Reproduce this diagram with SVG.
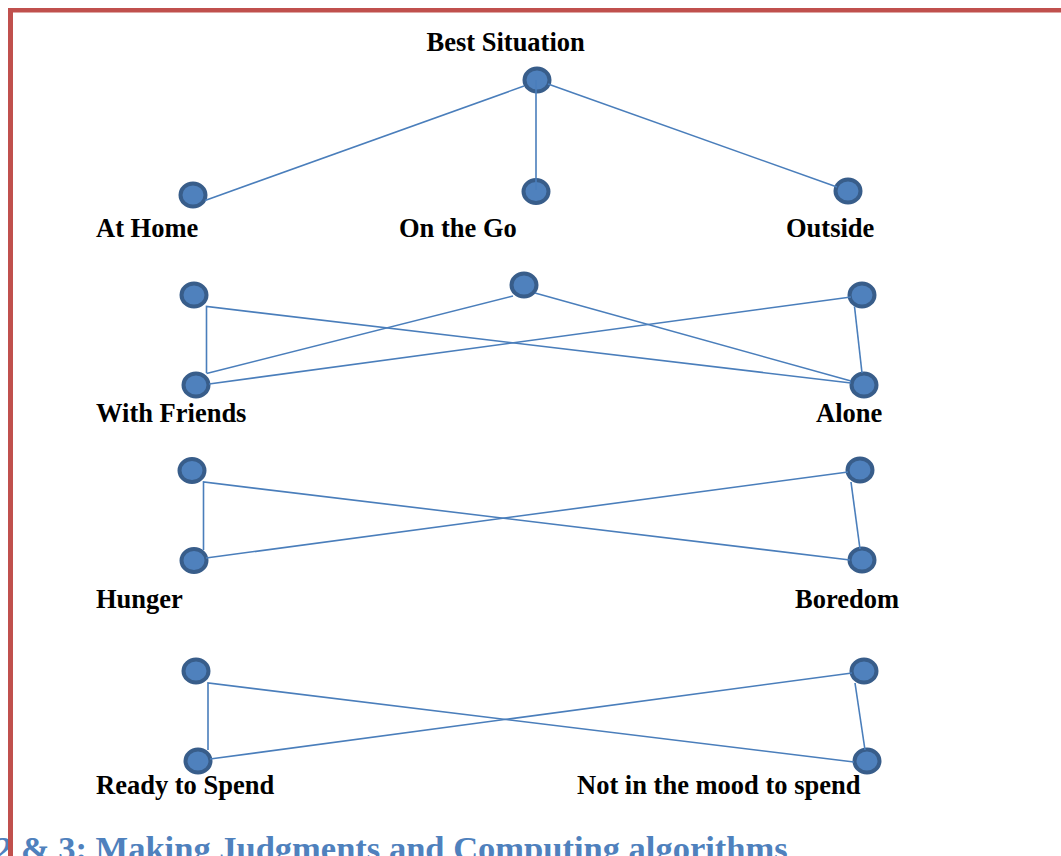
<svg xmlns="http://www.w3.org/2000/svg" width="1061" height="856" viewBox="0 0 1061 856">
<style>
.bg{fill:#ffffff}
.border{fill:#C0504D}
.node{fill:#4F81BD;stroke:#385D8A;stroke-width:4}
.edge{stroke:#4A7EBB;stroke-width:1.6;fill:none}
.lbl{font-family:"Liberation Serif","Times New Roman",serif;font-weight:bold;font-size:26.5px;fill:#000000}
.head{font-family:"Liberation Serif","Times New Roman",serif;font-weight:bold;font-size:34.5px;fill:#4F81BD}
</style>
<rect class="bg" x="0" y="0" width="1061" height="856"/>
<text class="head" x="-5" y="860">2 &amp; 3: Making Judgments and Computing algorithms</text>
<g id="frame">
<rect class="border" x="8" y="8" width="1053" height="4.5"/>
<rect class="border" x="8" y="8" width="5" height="848"/>
</g>
<g id="nodes">
<g id="n-best"><ellipse class="node" cx="537" cy="80" rx="12.5" ry="11.5"/><text class="lbl" x="426.5" y="51">Best Situation</text></g>
<g id="n-athome"><ellipse class="node" cx="193" cy="195" rx="12.5" ry="11.5"/><text class="lbl" x="96" y="237">At Home</text></g>
<g id="n-onthego"><ellipse class="node" cx="536" cy="191.5" rx="12.5" ry="11.5"/><text class="lbl" x="399" y="237">On the Go</text></g>
<g id="n-outside"><ellipse class="node" cx="848" cy="191" rx="12.5" ry="11.5"/><text class="lbl" x="786" y="237">Outside</text></g>

<g id="n-r2-tl"><ellipse class="node" cx="194" cy="295" rx="12.5" ry="11.5"/></g>
<g id="n-r2-tm"><ellipse class="node" cx="524" cy="285" rx="12.5" ry="11.5"/></g>
<g id="n-r2-tr"><ellipse class="node" cx="862" cy="295" rx="12.5" ry="11.5"/></g>
<g id="n-withfriends"><ellipse class="node" cx="196" cy="385" rx="12.5" ry="11.5"/><text class="lbl" x="96" y="422">With Friends</text></g>
<g id="n-alone"><ellipse class="node" cx="864" cy="385" rx="12.5" ry="11.5"/><text class="lbl" x="816" y="422">Alone</text></g>

<g id="n-r3-tl"><ellipse class="node" cx="192" cy="470.5" rx="12.5" ry="11.5"/></g>
<g id="n-r3-tr"><ellipse class="node" cx="860" cy="470" rx="12.5" ry="11.5"/></g>
<g id="n-hunger"><ellipse class="node" cx="194" cy="560.5" rx="12.5" ry="11.5"/><text class="lbl" x="96" y="608">Hunger</text></g>
<g id="n-boredom"><ellipse class="node" cx="862" cy="560" rx="12.5" ry="11.5"/><text class="lbl" x="795" y="608">Boredom</text></g>

<g id="n-r4-tl"><ellipse class="node" cx="196" cy="671" rx="12.5" ry="11.5"/></g>
<g id="n-r4-tr"><ellipse class="node" cx="864" cy="671" rx="12.5" ry="11.5"/></g>
<g id="n-ready"><ellipse class="node" cx="198" cy="761" rx="12.5" ry="11.5"/><text class="lbl" x="96" y="794">Ready to Spend</text></g>
<g id="n-notmood"><ellipse class="node" cx="867" cy="761" rx="12.5" ry="11.5"/><text class="lbl" x="577" y="794">Not in the mood to spend</text></g>
</g>
<g id="connectors">
<line class="edge" x1="524" y1="86" x2="205" y2="200.5"/>
<line class="edge" x1="536" y1="80" x2="536" y2="190"/>
<line class="edge" x1="548" y1="84" x2="837" y2="187"/>

<polyline class="edge" points="206.5,373 206.5,306.5 851,383"/>
<line class="edge" x1="513" y1="296" x2="206.5" y2="373.5"/>
<line class="edge" x1="209" y1="384" x2="851" y2="297"/>
<line class="edge" x1="535" y1="293" x2="851" y2="381"/>
<line class="edge" x1="854.5" y1="306.5" x2="862" y2="373"/>

<polyline class="edge" points="203.5,550 203.5,482 850,560"/>
<line class="edge" x1="206" y1="558" x2="848" y2="472"/>
<line class="edge" x1="851" y1="482" x2="860" y2="549"/>

<polyline class="edge" points="208,750 208,683 854,762"/>
<line class="edge" x1="210" y1="759" x2="852" y2="673"/>
<line class="edge" x1="855" y1="683" x2="865" y2="750"/>
</g>
</svg>
